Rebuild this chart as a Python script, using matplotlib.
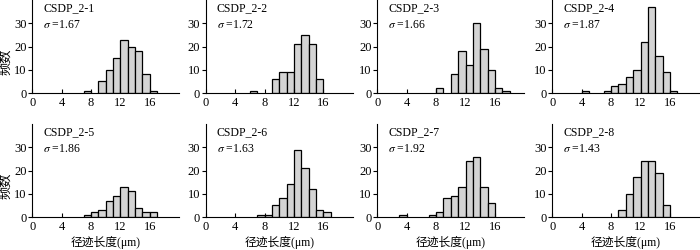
import matplotlib.pyplot as plt

plt.rcParams['font.family'] = ['Liberation Serif', 'Noto Sans CJK SC']
plt.rcParams['mathtext.fontset'] = 'stix'

# 样品名和标准差
samples = ["CSDP_2-1", "CSDP_2-2", "CSDP_2-3", "CSDP_2-4",
           "CSDP_2-5", "CSDP_2-6", "CSDP_2-7", "CSDP_2-8"]
sigmas = [1.67, 1.72, 1.66, 1.87, 1.86, 1.63, 1.92, 1.43]

# 每个样品: 柱子起点 (μm) 和频数, 组距 1 μm
starts_1 = [7, 9, 10, 11, 12, 13, 14, 15, 16]
counts_1 = [1, 5, 10, 15, 23, 20, 18, 8, 1]

starts_2 = [6, 9, 10, 11, 12, 13, 14, 15]
counts_2 = [1, 6, 9, 9, 21, 25, 21, 6]

starts_3 = [8, 10, 11, 12, 13, 14, 15, 16, 17]
counts_3 = [2, 8, 18, 12, 30, 19, 10, 2, 1]

starts_4 = [4, 7, 8, 9, 10, 11, 12, 13, 14, 15, 16]
counts_4 = [1, 1, 3, 4, 7, 10, 22, 37, 16, 9, 1]

starts_5 = [7, 8, 9, 10, 11, 12, 13, 14, 15, 16]
counts_5 = [1, 2, 3, 7, 9, 13, 11, 4, 2, 2]

starts_6 = [7, 8, 9, 10, 11, 12, 13, 14, 15, 16]
counts_6 = [1, 1, 5, 8, 14, 29, 21, 12, 3, 2]

starts_7 = [3, 7, 8, 9, 10, 11, 12, 13, 14, 15]
counts_7 = [1, 1, 2, 8, 9, 13, 24, 26, 13, 6]

starts_8 = [9, 10, 11, 12, 13, 14, 15]
counts_8 = [3, 10, 17, 24, 24, 19, 5]

all_starts = [starts_1, starts_2, starts_3, starts_4,
              starts_5, starts_6, starts_7, starts_8]
all_counts = [counts_1, counts_2, counts_3, counts_4,
              counts_5, counts_6, counts_7, counts_8]

xticks = [0, 4, 8, 12, 16]
yticks = [0, 10, 20, 30]

fig = plt.figure(figsize=(7, 2.5), dpi=100)

lefts = [0.046, 0.294, 0.539, 0.789]
bottoms = [0.628, 0.132]
w, h = 0.21, 0.372

for i in range(8):
    row, col = divmod(i, 4)
    ax = fig.add_axes([lefts[col], bottoms[row], w, h])
    ax.bar(all_starts[i], all_counts[i], width=1, align='edge',
           color='#d4d4d4', edgecolor='black', linewidth=0.9)
    ax.set_xlim(0, 20)
    ax.set_ylim(0, 40)
    ax.set_xticks(xticks)
    ax.set_yticks(yticks)
    ax.spines['top'].set_visible(False)
    ax.spines['right'].set_visible(False)
    ax.tick_params(axis='x', direction='in', length=3, labelsize=9, pad=3)
    ax.tick_params(axis='y', direction='out', length=3, labelsize=9, pad=1)
    ax.text(0.075, 0.91, samples[i], transform=ax.transAxes,
            fontsize=8.5, va='center', ha='left')
    ax.text(0.075, 0.73, r"$\sigma$" + f" ={sigmas[i]:.2f}",
            transform=ax.transAxes, fontsize=8.5, va='center', ha='left')
    if col == 0:
        ax.set_ylabel("频数", fontsize=9.5)
        ax.yaxis.set_label_coords(-0.135, 0.34)
    if row == 1:
        ax.set_xlabel("径迹长度(μm)", fontsize=8.5)
        ax.xaxis.set_label_coords(0.5, -0.2)

plt.savefig("out.png")
plt.close()
